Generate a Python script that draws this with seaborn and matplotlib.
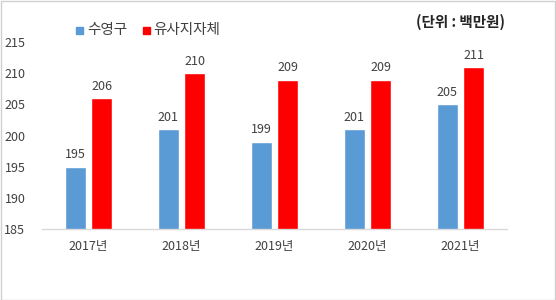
import matplotlib
matplotlib.use("Agg")
import matplotlib.pyplot as plt
import seaborn as sns
import pandas as pd
from matplotlib.patches import Rectangle

years = ["2017년", "2018년", "2019년", "2020년", "2021년"]
suyeong = [195, 201, 199, 201, 205]
similar = [206, 210, 209, 209, 211]
series_names = ["수영구", "유사지자체"]
yticks = [185, 190, 195, 200, 205, 210, 215]

sns.set_theme(style="white")
plt.rcParams['font.family'] = ['Noto Sans CJK KR', 'DejaVu Sans']

df = pd.DataFrame({
    "year": years * 2,
    "value": suyeong + similar,
    "series": [series_names[0]] * len(years) + [series_names[1]] * len(years),
})

fig = plt.figure(figsize=(5.56, 3.0), dpi=100)
ax = fig.add_axes([42/556, 1 - 229/300, 465/556, (229 - 36)/300])
palette = {series_names[0]: "#5B9BD5", series_names[1]: "#FF0000"}
sns.barplot(data=df, x="year", y="value", hue="series", palette=palette,
            width=0.57, gap=0.2, ax=ax, legend=False, saturation=1)

ax.set_ylim(185, 216)
ax.set_yticks(yticks)
ax.set_xlabel("")
ax.set_ylabel("")
for s in ["top", "right", "left"]:
    ax.spines[s].set_visible(False)
ax.spines["bottom"].set_color("#d9d9d9")
ax.spines["bottom"].set_linewidth(1)
ax.tick_params(axis="y", length=0, pad=12, labelsize=9, labelcolor="#404040")
ax.tick_params(axis="x", length=0, pad=8, labelsize=9, labelcolor="#404040")
ax.set_xlim(-0.5, 4.5)

for cont in ax.containers:
    ax.bar_label(cont, padding=4, fontsize=9, color="#404040")

# legend
fig.patches.append(Rectangle((76/556, 1 - 34/300), 7/556, 7/300, transform=fig.transFigure,
                             color="#5B9BD5"))
fig.text(87/556, 1 - 30/300, series_names[0], fontsize=10.5, color="#404040", va="center")
fig.patches.append(Rectangle((143/556, 1 - 34/300), 7/556, 7/300, transform=fig.transFigure,
                             color="#FF0000"))
fig.text(153/556, 1 - 30/300, series_names[1], fontsize=10.5, color="#404040", va="center")

fig.text(505/556, 1 - 22/300, "(단위 : 백만원)", fontsize=10.5, fontweight="bold",
         color="#262626", ha="right", va="center")

fig.patches.append(Rectangle((0.5/556, 0.5/300), 554/556, 298.5/300, transform=fig.transFigure,
                             fill=False, edgecolor="#d0d0d0", linewidth=1))

fig.savefig("out.png", dpi=100)
